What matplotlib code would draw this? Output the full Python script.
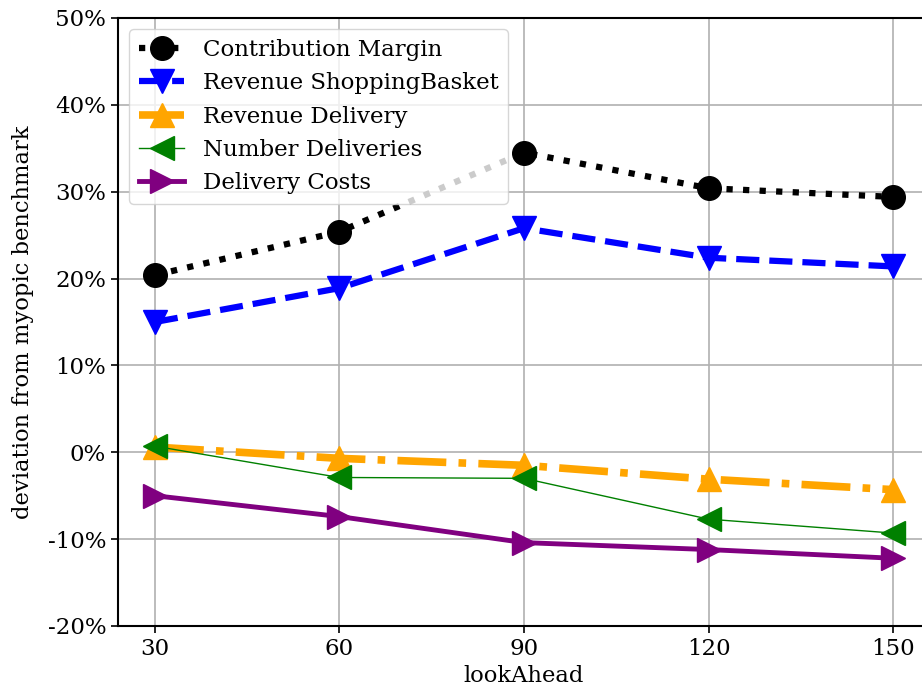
import matplotlib
matplotlib.use("Agg")
import matplotlib.pyplot as plt
from matplotlib.ticker import FuncFormatter

plt.rcParams['font.family'] = ['DejaVu Serif']

look_ahead = [30, 60, 90, 120, 150]
contribution_margin = [20.4, 25.4, 34.5, 30.4, 29.4]
revenue_basket = [15.0, 18.9, 25.8, 22.4, 21.4]
revenue_delivery = [0.6, -0.7, -1.5, -3.1, -4.3]
number_deliveries = [0.7, -2.9, -3.0, -7.7, -9.3]
delivery_costs = [-5.0, -7.4, -10.4, -11.2, -12.2]

fig = plt.figure(figsize=(9.22, 6.95), dpi=100)
ax = fig.add_axes([118/922, 69/695, 812/922, 608/695])

ms = 17
ax.plot(look_ahead, contribution_margin, ':', color='black', lw=4.5, marker='o', ms=ms, label='Contribution Margin')
ax.plot(look_ahead, revenue_basket, '--', color='blue', lw=4.5, marker='v', ms=ms, label='Revenue ShoppingBasket')
ax.plot(look_ahead, revenue_delivery, '-.', color='orange', lw=5.5, marker='^', ms=ms, label='Revenue Delivery')
ax.plot(look_ahead, number_deliveries, '-', color='green', lw=1, marker='<', ms=ms, label='Number Deliveries')
ax.plot(look_ahead, delivery_costs, '-', color='purple', lw=3.5, marker='>', ms=ms, label='Delivery Costs')

ax.set_xlim(24, 156)
ax.set_ylim(-20, 50)
ax.set_xticks(look_ahead)
ax.set_yticks(range(-20, 51, 10))
ax.yaxis.set_major_formatter(FuncFormatter(lambda v, p: f"{int(v)}%"))
ax.tick_params(labelsize=16.5, width=1.2, length=5)
ax.grid(True, color='#b0b0b0', lw=1.2)
ax.set_axisbelow(True)
for s in ax.spines.values():
    s.set_linewidth(1.5)
ax.set_xlabel('lookAhead', fontsize=16.3, labelpad=4)
ax.set_ylabel('deviation from myopic benchmark', fontsize=16.3, labelpad=10)
ax.legend(loc='upper left', fontsize=16.5, handlelength=2, labelspacing=0.5,
          borderaxespad=0.5)

fig.savefig('out.png', dpi=100)
